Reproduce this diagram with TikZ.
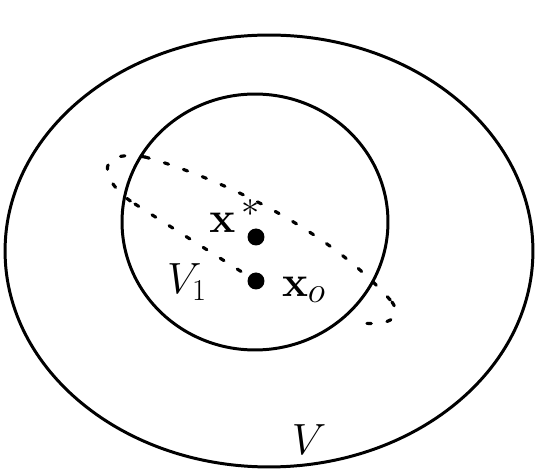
\documentclass[tikz,border=0pt]{standalone}
\usepackage{tikz}
\usepackage{amsmath}

\begin{document}
\begin{tikzpicture}[x=0.02cm, y=-0.02cm,
    ringline/.style = {line width=1.7pt},
    tubeline/.style = {line width=1.8pt, line cap=round, dash pattern=on 2.5pt off 9pt},
    ptnode/.style = {fill=black, circle, minimum size=0.34cm, inner sep=0pt},
    lblnode/.style = {font=\fontsize{26}{30}\selectfont, inner sep=0pt},
    xlblnode/.style = {font=\fontsize{32}{36}\selectfont, inner sep=0pt}]
    \useasboundingbox (0,0) rectangle (539,476);
    % the two regions
    \coordinate (cV) at (269,251);
    \coordinate (cVone) at (255,222);
    \draw[ringline] (cV) ellipse [x radius=5.28cm, y radius=4.32cm];
    \draw[ringline] (cVone) ellipse [x radius=2.66cm, y radius=2.56cm];
    % points and labels
    \node[ptnode] (xs) at (256,237) {};
    \node[ptnode] (xo) at (256,281) {};
    \node[xlblnode] (xslbl) at (235,216) {$\mathbf{x}^{\,*}$};
    \node[xlblnode] (xolbl) at (304,290) {$\mathbf{x}_{o}$};
    \node[lblnode] (Vonelbl) at (187,282) {$V_1$};
    \node[lblnode] (Vlbl) at (309,440) {$V$};
    % dashed tube
    \coordinate (ua) at (145,157);
    \coordinate (ub) at (392,302);
    \coordinate (la) at (135,204);
    \coordinate (lc) at (362,323);
    \draw[tubeline] (ua) .. controls (220,178) and (330,230) .. (ub);
    \draw[tubeline] (la) -- (xo);
    \draw[tubeline] (ua) .. controls (88,148) and (105,186) .. (la);
    \draw[tubeline] (ub) .. controls (402,316) and (392,326) .. (lc);
\end{tikzpicture}
\end{document}
